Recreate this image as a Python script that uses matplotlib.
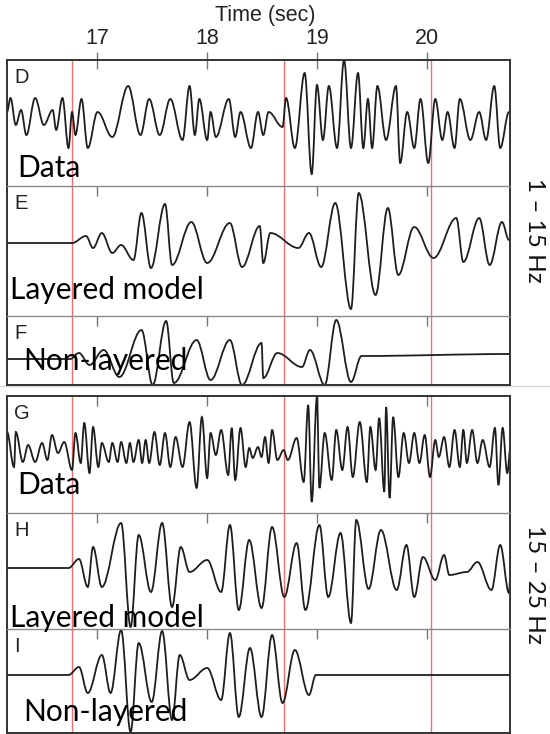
import matplotlib
matplotlib.use('Agg')
import matplotlib.pyplot as plt
from matplotlib.path import Path
from matplotlib.patches import PathPatch
from matplotlib.lines import Line2D

# ---------------- data ----------------
x_ticks = [17, 18, 19, 20]
red_lines = [16.774, 18.697, 20.033]
t_range = (16.183, 20.754)

# D: data 1-15 Hz  (extrema: time, amplitude)
d_t = [16.183, 16.215, 16.263, 16.311, 16.359, 16.439, 16.518, 16.598, 16.630, 16.687,
       16.742, 16.774, 16.805, 16.860, 16.917, 17.006, 17.140, 17.284, 17.396, 17.475,
       17.571, 17.667, 17.778, 17.842, 17.890, 17.931, 18.002, 18.033, 18.081, 18.199,
       18.257, 18.305, 18.400, 18.464, 18.512, 18.560, 18.687, 18.719, 18.799, 18.888,
       18.952, 19.000, 19.054, 19.108, 19.182, 19.246, 19.309, 19.373, 19.421, 19.463,
       19.501, 19.549, 19.628, 19.718, 19.756, 19.820, 19.884, 19.941, 20.011, 20.075,
       20.139, 20.187, 20.250, 20.298, 20.394, 20.474, 20.537, 20.611, 20.665, 20.745]
d_a = [0, 14, -13, 2, -23, 14, -13, 2, -18, 14,
       -36, 0, -23, 13, -36, 0, -25, 26, -23, 13,
       -23, 13, -28, 26, -23, 13, -28, 0, -25, 13,
       -25, 0, -36, 0, -23, 0, -15, 14, -36, 39,
       -62, 27, -28, 26, -36, 52, -36, 39, -36, 13,
       -36, 26, -28, 26, -51, 0, -36, 13, -51, 13,
       -28, 0, -36, 13, -28, 0, -28, 26, -36, 0]

# E: layered model 1-15 Hz
e_t = [16.183, 16.774, 16.901, 16.965, 17.045, 17.140, 17.220, 17.332, 17.405, 17.491,
       17.619, 17.683, 17.858, 18.002, 18.208, 18.319, 18.480, 18.512, 18.576, 18.831,
       18.927, 19.038, 19.166, 19.309, 19.379, 19.532, 19.644, 19.739, 19.883, 20.059,
       20.266, 20.330, 20.474, 20.569, 20.681, 20.745]
e_a = [0, 0, 7, -5, 10, -10, -2, -17, 30, -25,
       39, -22, 21, -20, 20, -24, 17, -20, 10, -5,
       10, -24, 40, -66, 50, -52, 35, -32, 16, -15,
       25, -19, 25, -22, 21, 3]

# F: non-layered 1-15 Hz
f_t = [16.183, 16.758, 16.837, 16.933, 17.061, 17.204, 17.405, 17.507, 17.629, 17.699,
       17.906, 18.033, 18.208, 18.319, 18.496, 18.512, 18.640, 18.863, 18.936, 19.070,
       19.175, 19.309, 19.405, 20.754]
f_a = [0, 0, 6, -6, 9, -18, 29, -26, 38, -24,
       19, -21, 19, -26, 16, -19, 6, -8, 9, -26,
       39, -23, 3, 5]

# G: data 15-25 Hz
g_t = [16.183, 16.247, 16.263, 16.327, 16.375, 16.439, 16.502, 16.550, 16.592, 16.646,
       16.703, 16.774, 16.805, 16.853, 16.885, 16.933, 16.965, 17.013, 17.045, 17.108,
       17.140, 17.188, 17.220, 17.268, 17.300, 17.332, 17.380, 17.411, 17.443, 17.475,
       17.523, 17.571, 17.619, 17.667, 17.715, 17.778, 17.842, 17.906, 17.954, 18.002,
       18.033, 18.081, 18.129, 18.193, 18.225, 18.257, 18.305, 18.352, 18.384, 18.416,
       18.464, 18.496, 18.528, 18.560, 18.592, 18.640, 18.697, 18.735, 18.815, 18.879,
       18.920, 18.952, 19.000, 19.022, 19.070, 19.134, 19.175, 19.230, 19.278, 19.325,
       19.389, 19.453, 19.485, 19.533, 19.565, 19.612, 19.628, 19.660, 19.692, 19.740,
       19.788, 19.836, 19.884, 19.931, 19.979, 20.027, 20.075, 20.107, 20.155, 20.203,
       20.250, 20.298, 20.330, 20.362, 20.410, 20.458, 20.506, 20.569, 20.617, 20.649,
       20.687, 20.729, 20.761]
g_a = [15, -20, 15, -15, 2, -15, 4, -13, 12, -6,
       5, -23, 14, -16, 24, -26, 20, -20, 4, -15,
       4, -15, 5, -16, 4, -15, 7, -16, 7, -16,
       15, -18, 14, -20, 10, -20, 25, -41, 30, -31,
       14, -8, 17, -28, 19, -33, 19, -20, -1, -11,
       0, -10, 10, -16, 17, -13, -3, -13, 9, -35,
       42, -55, 50, -41, 14, -33, 17, -23, 20, -30,
       25, -35, 20, -23, 29, -45, 40, -51, 30, -30,
       14, -16, 14, -16, 12, -30, 7, -10, 10, -20,
       17, -20, 17, -16, 17, -16, 7, -20, 19, -38,
       19, -26, 2]

# H: layered model 15-25 Hz
h_t = [16.183, 16.742, 16.837, 16.917, 16.965, 17.045, 17.220, 17.306, 17.380, 17.491,
       17.593, 17.683, 17.762, 17.842, 18.002, 18.129, 18.209, 18.289, 18.384, 18.496,
       18.592, 18.703, 18.815, 18.895, 19.022, 19.102, 19.214, 19.309, 19.357, 19.469,
       19.581, 19.724, 19.813, 19.884, 19.963, 20.075, 20.155, 20.203, 20.362, 20.458,
       20.585, 20.665, 20.745, 20.761]
h_a = [0, 0, 9, -19, 21, -19, 45, -59, 33, -24,
       45, -39, 21, -4, 8, -24, 43, -42, 28, -40,
       41, -29, 25, -42, 43, -29, 35, -55, 48, -21,
       38, -22, 23, -29, 11, -12, 13, -7, -4, 6,
       -22, 23, -25, 1]

# I: non-layered 15-25 Hz
i_t = [16.183, 16.742, 16.837, 16.917, 17.045, 17.124, 17.220, 17.306, 17.380, 17.498,
       17.593, 17.683, 17.753, 17.842, 18.002, 18.129, 18.209, 18.289, 18.391, 18.496,
       18.592, 18.687, 18.799, 18.927, 18.990, 20.754]
i_a = [0, 0, 8, -18, 20, -18, 45, -57, 32, -27,
       44, -45, 20, -5, 7, -25, 42, -42, 27, -42,
       40, -28, 25, -20, 0, 0]

panel_letters = ['D', 'E', 'F', 'G', 'H', 'I']
trace_labels = ['Data', 'Layered model', 'Non-layered',
                'Data', 'Layered model', 'Non-layered']
band_labels = ['1 – 15 Hz', '15 – 25 Hz']
axis_title = 'Time (sec)'

traces = [(d_t, d_a), (e_t, e_a), (f_t, f_a), (g_t, g_a), (h_t, h_a), (i_t, i_a)]

# ---------------- layout ----------------
W, H = 550, 734
fig = plt.figure(figsize=(W / 100, H / 100), dpi=100)

left_px, right_px = 7, 510
panel_px = [(60, 186), (186, 316), (316, 385), (396, 513), (513, 629), (629, 733)]
ylims = [(-74, 52), (-73, 57), (-26, 43), (-66, 51), (-61, 55), (-58, 46)]
label_pos = [(17, 177), (10, 299), (23, 370), (17, 494), (10, 627), (23, 721)]
band_pos = [(535, 230), (535, 584)]

dark = '#333333'
mid = '#8a8a8a'
trace_col = '#1e1e1e'
red_col = '#f07070'
label_font = ['Lato', 'DejaVu Sans']
sans = ['Liberation Sans', 'DejaVu Sans']


def smooth_path(ts, vs, k=0.36):
    verts = [(ts[0], vs[0])]
    codes = [Path.MOVETO]
    for i in range(1, len(ts)):
        t0, v0, t1, v1 = ts[i - 1], vs[i - 1], ts[i], vs[i]
        dt = t1 - t0
        verts += [(t0 + k * dt, v0), (t1 - k * dt, v1), (t1, v1)]
        codes += [Path.CURVE4] * 3
    return Path(verts, codes)


# faint separator line across figure
fig.add_artist(Line2D([0, 1], [1 - 386 / H, 1 - 386 / H], color='#d8d8d8', lw=1.0,
                      transform=fig.transFigure, zorder=0))

for idx, ((top, bot), (ts, vs), yl) in enumerate(zip(panel_px, traces, ylims)):
    ax = fig.add_axes([left_px / W, 1 - bot / H, (right_px - left_px) / W, (bot - top) / H])
    ax.set_xlim(*t_range)
    ax.set_ylim(*yl)
    ax.set_yticks([])
    first = idx in (0, 3)
    last = idx in (2, 5)
    for s in ['left', 'right']:
        ax.spines[s].set_color(dark)
        ax.spines[s].set_linewidth(1.4)
    ax.spines['top'].set_color(dark if first else mid)
    ax.spines['top'].set_linewidth(1.4 if first else 1.0)
    if last:
        ax.spines['bottom'].set_color(dark)
        ax.spines['bottom'].set_linewidth(1.4)
    else:
        ax.spines['bottom'].set_visible(False)
    ax.set_xticks(x_ticks)
    ax.tick_params(axis='x', bottom=False, top=True, labelbottom=False,
                   labeltop=(idx == 0), direction=('inout' if idx == 0 else 'in'),
                   length=(17 if idx == 0 else 10) * 0.72, width=1.0, color='#777777',
                   labelsize=15.5, pad=2)
    if idx == 0:
        for lab in ax.get_xticklabels():
            lab.set_fontfamily(sans)
            lab.set_color('#222222')
    for r in red_lines:
        ax.axvline(r, color=red_col, lw=1.0, zorder=1)
    ax.add_patch(PathPatch(smooth_path(ts, vs), fill=False, edgecolor=trace_col,
                           lw=1.3, transform=ax.transData, zorder=2))
    ax.text(0.014, 1 - 8 / (bot - top), panel_letters[idx], transform=ax.transAxes,
            ha='left', va='top', fontsize=14.5, family=sans, color='#222222')

for (x, y), txt in zip(label_pos, trace_labels):
    fig.text(x / W, 1 - y / H, txt, ha='left', va='baseline', fontsize=21.5,
             family=label_font, color='black', zorder=5)

for (x, y), txt in zip(band_pos, band_labels):
    fig.text(x / W, 1 - y / H, txt, ha='center', va='center', rotation=-90,
             fontsize=17.5, family=label_font, color='#111111')

fig.text(265 / W, 1 - 15 / H, axis_title, ha='center', va='center', fontsize=15.5,
         family=sans, color='#222222')

fig.savefig('out.png', dpi=100)
